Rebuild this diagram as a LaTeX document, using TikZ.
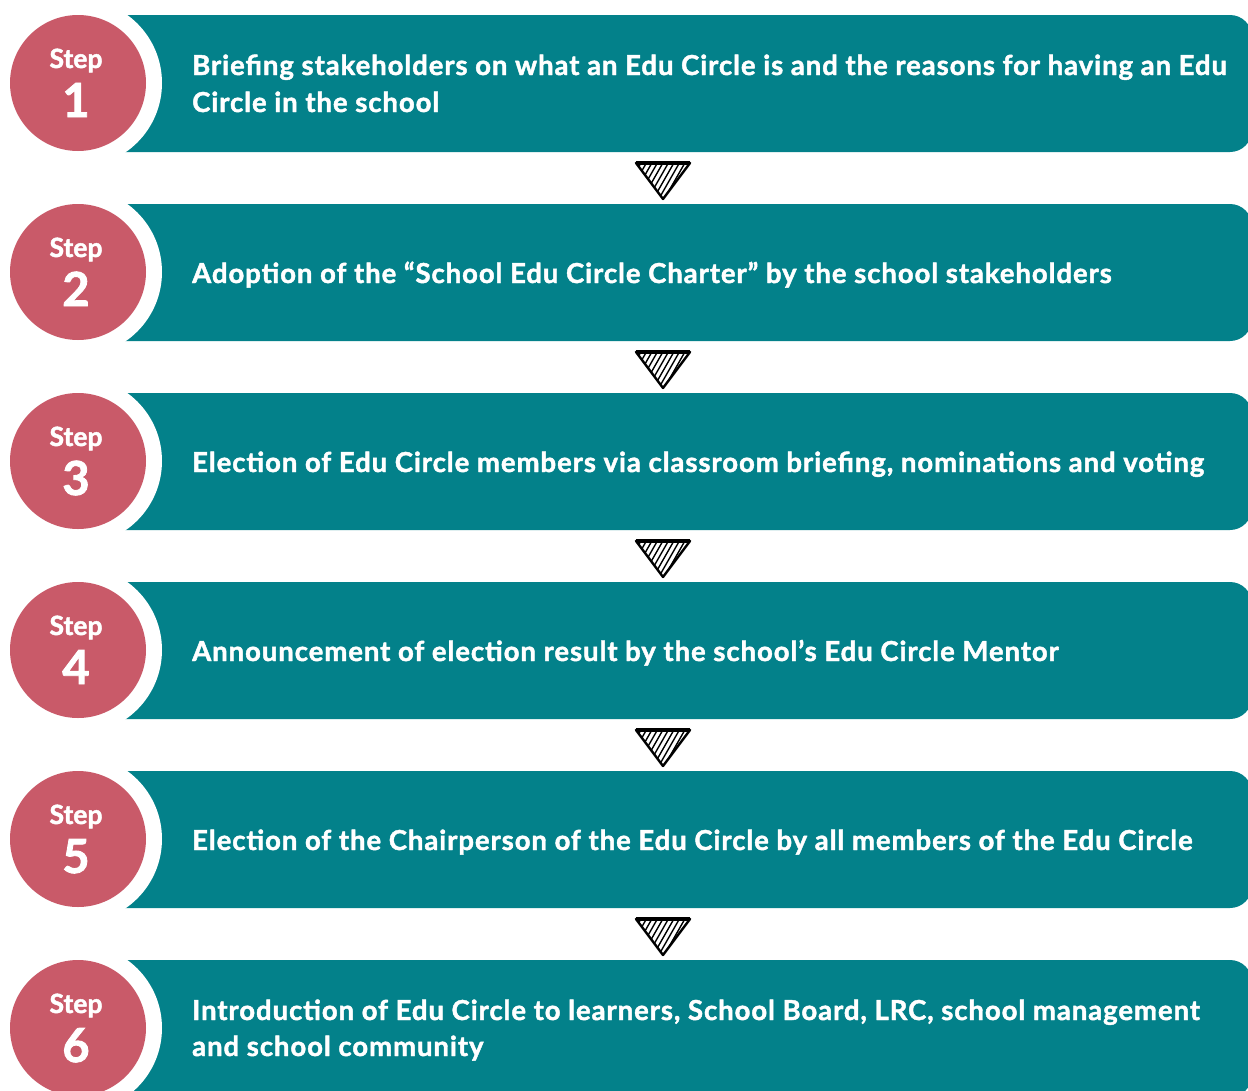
\documentclass[tikz,border=0pt]{standalone}
\usepackage{fontspec}
\setmainfont{Lato}[BoldFeatures={FakeBold=1.8}]
\newfontfamily\descfont{Lato}[BoldFeatures={FakeBold=1.6,LetterSpace=3.4}]
\definecolor{bandteal}{HTML}{03818A}
\definecolor{badgepink}{HTML}{C95A69}
\begin{document}
\begin{tikzpicture}[x=1pt,y=-1pt,
  stepband/.style={fill=bandteal, rounded corners=22pt},
  steplbl/.style={text=white, font=\fontsize{26.5}{26.5}\selectfont\bfseries, inner sep=0pt, anchor=base},
  stepnum/.style={text=white, font=\fontsize{47}{47}\selectfont\bfseries, inner sep=0pt, anchor=base},
  desc/.style={text=white, font=\descfont\fontsize{27.5}{27.5}\selectfont\bfseries, inner sep=0pt, anchor=base west},
  hatchline/.style={line width=1.4pt, black, line cap=round},
  tribox/.style={line width=2.4pt, black, line join=round}
]
\useasboundingbox (0,0) rectangle (1248,1090);
\clip (0,0) rectangle (1248,1090);

% step bands with their round badges
\foreach \i/\n in {0/1,1/2,2/3,3/4,4/5,5/6}{
  \pgfmathsetmacro{\t}{15+189*\i}
  \fill[stepband] (60,\t) rectangle (1252,\t+137);
  \fill[white] (78,\t+68) circle (84);
  \fill[badgepink] (78,\t+68) circle (68);
  \node[steplbl] (lbl\n) at (76,\t+53) {Step};
  \node[stepnum] (num\n) at (76,\t+102) {\n};
}

% step descriptions
\node[desc] (d1a) at (192,75) {Briefing stakeholders on what an Edu Circle is and the reasons for having an Edu};
\node[desc] (d1b) at (192,112) {Circle in the school};
\node[desc] (d2) at (192,283) {Adoption of the “School Edu Circle Charter” by the school stakeholders};
\node[desc] (d3) at (192,472) {Election of Edu Circle members via classroom briefing, nominations and voting};
\node[desc] (d4) at (192,661) {Announcement of election result by the school’s Edu Circle Mentor};
\node[desc] (d5) at (192,850) {Election of the Chairperson of the Edu Circle by all members of the Edu Circle};
\node[desc] (d6a) at (192,1020) {Introduction of Edu Circle to learners, School Board, LRC, school management};
\node[desc] (d6b) at (192,1056) {and school community};

% hatched down-pointing markers between the steps
\foreach \i in {0,...,4}{
  \pgfmathsetmacro{\t}{163+189*\i}
  \begin{scope}
    \clip (636,\t) -- (690,\t) -- (663,\t+36) -- cycle;
    \foreach \k in {0,...,11}{
      \draw[hatchline] (618+5.5*\k,\t+40) -- (642+5.5*\k,\t-2);
    }
  \end{scope}
  \draw[tribox] (636,\t) -- (690,\t) -- (663,\t+36) -- cycle;
  \draw[line width=3.2pt] (636,\t) -- (690,\t);
}
\end{tikzpicture}
\end{document}
